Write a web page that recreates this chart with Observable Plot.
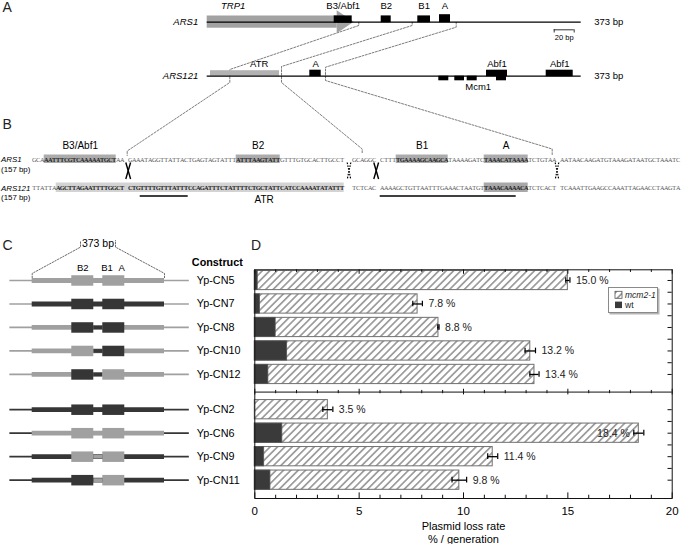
<!DOCTYPE html>
<html>
<head>
<meta charset="utf-8">
<script src="https://cdn.jsdelivr.net/npm/d3@7"></script>
<script src="https://cdn.jsdelivr.net/npm/@observablehq/plot@0.6"></script>
<style>
  html, body { margin:0; padding:0; background:#fff; }
  #fig { position:relative; width:681px; height:544px; overflow:hidden; background:#fff; }
  #fig > svg { position:absolute; left:0; top:0; }
  #legend { position:absolute; left:608px; top:287px; width:48px; height:24px; border:1px solid #8a8a8a;
            box-shadow:1.5px 1.5px 0 #b5b5b5; background:#fff; }
  #legend svg { position:absolute; left:0; top:0; font-family:'Liberation Sans', Arial, sans-serif; font-size:8.5px; }
</style>
</head>
<body>
<svg width="0" height="0" style="position:absolute">
  <defs>
    <pattern id="hatch" patternUnits="userSpaceOnUse" width="5.2" height="5.2" patternTransform="rotate(45)">
      <rect width="5.2" height="5.2" fill="#fff"></rect>
      <line x1="2.6" y1="0" x2="2.6" y2="5.2" stroke="#1a1a1a" stroke-width="0.75"></line>
    </pattern>
  </defs>
</svg>
<div id="fig"></div>
<script>
// ======================= DATA =======================
// Panel A – element maps along the two 373 bp fragments (bp)
const fragmentBp = 373;
const scaleBarBp = 20;
const trp1Name = "TRP1", trp1Start = 0, trp1End = 147;
const ars1Names = ["B3/Abf1", "B2", "B1", "A"];
const ars1Start = [127, 174, 210.6, 232.3];
const ars1End   = [145, 184, 223.3, 243.3];
const ars121Names  = ["ATR", "A", "Mcm1", "Mcm1", "Mcm1", "Abf1", "Abf1", "Abf1"];
const ars121Start  = [3.3, 102.6, 231.6, 247.6, 260, 279.3, 289.3, 339];
const ars121End    = [72.3, 114, 241.6, 257.3, 270, 300.3, 299.3, 366];
const ars121Strand = ["up", "up", "down", "down", "down", "up", "down", "up"];
const ars121LabelText = ["ATR", "A", "Abf1", "Abf1", "Mcm1"];
const ars121LabelBp   = [52, 108.5, 289.8, 352.5, 271];
const ars121LabelSide = ["up", "up", "up", "up", "down"];

// Panel B – aligned 157 bp sequences (one character per column, blanks are gaps)
const seqARS1   = "GCAAATTTCGTCAAAAATGCTAA GAAATAGGTTATTACTGAGTAGTATTTATTTAAGTATTGTTTGTGCACTTGCCT  GCAGGC CTTTTGAAAAGCAAGCATAAAAGATCTAAACATAAAATCTGTAA AATAACAAGATGTAAAGATAATGCTAAATC";
const seqARS121 = "TTATTAAGCTTAGAATTTTGGCT CTGTTTTGTTTATTTCCAGATTTCTATTTTCTGCTATTCATCCAAAATATATTT  TCTCAC AAAAGCTGTTAATTTGAAACTAATGTTAAACAAAACATCTCACT TCAAATTGAAGCCAAATTAGAACCTAAGTA";
const ars1BoxNames = ["B3/Abf1", "B2", "B1", "A"];
const ars1BoxFrom  = [3, 51, 91, 113];
const ars1BoxTo    = [21, 62, 104, 124];
const atrFrom = 6, atrTo = 78, atrLabelCol = 58;
const ars121BoxFrom = 113, ars121BoxTo = 124;
const underlineFrom = [27, 87];
const underlineTo   = [39, 121];
const crossSolid  = [24, 86];
const crossDashed = [79.2, 131.2];

// Panels C & D – constructs
const constructs     = ["Yp-CN5", "Yp-CN7", "Yp-CN8", "Yp-CN10", "Yp-CN12", "Yp-CN2", "Yp-CN6", "Yp-CN9", "Yp-CN11"];
const constructGroup = ["I", "I", "I", "I", "I", "II", "II", "II", "II"];
// origin of each part: L = light (ARS1), D = dark (ARS121)
const outerSrc  = ["L", "L", "L", "L", "L", "D", "D", "D", "D"];
const flankSrc  = ["L", "D", "L", "L", "L", "D", "L", "D", "D"];
const b2Src     = ["L", "D", "D", "L", "D", "D", "L", "L", "D"];
const spacerSrc = ["L", "D", "D", "D", "D", "D", "L", "L", "L"];
const b1aSrc    = ["L", "D", "D", "D", "L", "D", "L", "L", "L"];
const cPartNames = ["B2", "B1", "A"];
const cPartBp    = [142.6, 211, 252];

const mcm2Loss = [15.0, 7.8, 8.8, 13.2, 13.4, 3.5, 18.4, 11.4, 9.8];
const mcm2Err  = [0.1, 0.23, 0.03, 0.25, 0.22, 0.24, 0.24, 0.24, 0.35];
const wtLoss   = [0.14, 0.25, 1.0, 1.55, 0.65, 0, 1.32, 0.45, 0.75];
const lossTicks = [0, 5, 10, 15, 20];

// ======================= LAYOUT =======================
const FONT = "'Liberation Sans', Arial, Helvetica, sans-serif";
const baseStyle = {background: "transparent", overflow: "visible", fontFamily: FONT};
const fig = document.getElementById("fig");
const add = (el) => fig.appendChild(el);
const pxY = {domain: [0, 544], range: [0, 544], axis: null};

// ---------- Panel A ----------
const A1 = 21.7, A2 = 75.7;   // baselines
const head = 17;
const ars1El = ars1Names.map((n, i) => ({name: n, start: ars1Start[i], end: ars1End[i]}));
const ars121El = ars121Names.map((n, i) => ({name: n, start: ars121Start[i], end: ars121End[i], strand: ars121Strand[i]}));
const ars121Lab = ars121LabelText.map((t, i) => ({t, bp: ars121LabelBp[i], side: ars121LabelSide[i]}));
const connectors = [
  [[151.6, A1], [151.6, 25], [22.6, 69], [22.6, 82], [-80, 150.5], [-80, 155]],
  [[205, A1], [205, 25], [74.3, 66], [74.3, 82], [155, 148.5], [155, 153]],
  [[249, A1], [249, 26.7], [118.3, 66.7], [118.3, 80], [345, 148.5], [345, 154]]
].flatMap((pts, id) => pts.map(([x, y]) => ({id, x, y})));

const PA = Plot.plot({
  width: 681, height: 544, margin: 0, style: baseStyle,
  x: {domain: [0, fragmentBp], range: [206.7, 579.7], axis: null},
  y: pxY,
  marks: [
    Plot.line(connectors, {x: "x", y: "y", z: "id", stroke: "#444", strokeWidth: 0.7, strokeDasharray: "2,1.5"}),
    // TRP1 arrow
    Plot.rect([0], {x1: () => trp1Start, x2: () => trp1End - head, y1: () => A1 - 6.2, y2: () => A1 + 6, fill: "#a2a2a2"}),
    Plot.areaY([{x: trp1End - head, a: A1 - 11.5, b: A1 + 11.5}, {x: trp1End, a: A1, b: A1}],
               {x: "x", y1: "a", y2: "b", fill: "#a2a2a2"}),
    Plot.text([trp1Name], {x: () => 26, y: () => A1 - 16.5, text: d => d, fontStyle: "italic", fontSize: 9.5}),
    // ATR band
    Plot.rect(ars121El.filter(d => d.name === "ATR"), {x1: "start", x2: "end", y1: () => A2 - 5.5, y2: () => A2, fill: "#b2b2b2"}),
    // fragment lines
    Plot.ruleY([A1, A2], {y: d => d, x1: () => 0, x2: () => fragmentBp + 1, stroke: "#000", strokeWidth: 1.3}),
    // elements
    Plot.rect(ars1El, {x1: "start", x2: "end", y1: d => A1 - (d.name === "A" ? 7.5 : 6.3), y2: d => A1 + (d.name === "B3/Abf1" ? 1 : 0.5), fill: "#000"}),
    Plot.rect(ars121El.filter(d => d.name !== "ATR"), {x1: "start", x2: "end",
      y1: d => d.strand === "up" ? A2 - 6 : A2, y2: d => d.strand === "up" ? A2 + 0.5 : A2 + 4.6, fill: "#000"}),
    Plot.text(ars1El, {x: d => (d.start + d.end) / 2, y: () => A1 - 16.5, text: "name", fontSize: 9.5}),
    Plot.text(ars121Lab, {x: "bp", y: d => d.side === "up" ? A2 - 12.2 : A2 + 10.5, text: "t", fontSize: 9.5}),
    Plot.text(["ARS1", "ARS121"], {x: () => -9, y: (d, i) => [A1, A2][i], text: d => d, textAnchor: "end", fontStyle: "italic", fontSize: 9.5}),
    Plot.text([A1, A2], {x: () => fragmentBp + 14, y: d => d, text: () => fragmentBp + " bp", textAnchor: "start", fontSize: 9.5}),
    // 20 bp scale bar
    Plot.ruleY([0], {y: () => 29.3, x1: () => 347, x2: () => 347 + scaleBarBp, stroke: "#000", strokeWidth: 0.8}),
    Plot.ruleX([347, 347 + scaleBarBp], {x: d => d, y1: () => 29.3, y2: () => 32.5, stroke: "#000", strokeWidth: 0.8}),
    Plot.text([scaleBarBp + " bp"], {x: () => 347 + scaleBarBp / 2, y: () => 37, text: d => d, fontSize: 7.5})
  ]
});
add(PA);

// ---------- Panel B ----------
const B1 = 159, B2 = 187.5;
const ars1Boxes = ars1BoxNames.map((name, i) => ({name, from: ars1BoxFrom[i], to: ars1BoxTo[i]}));
const emph = (r, i) => r === 0 ? ars1Boxes.some(b => i >= b.from && i < b.to) : (i >= atrFrom && i < atrTo) || (i >= ars121BoxFrom && i < ars121BoxTo);
const chars = [];
[seqARS1, seqARS121].forEach((s, r) => {
  for (let i = 0; i < s.length; i++) if (s[i] !== " ") chars.push({i, ch: s[i], row: r, em: emph(r, i)});
});
const underlines = underlineFrom.map((f, i) => ({from: f, to: underlineTo[i]}));
const crosses = [...crossSolid.map(c => ({c, solid: true})), ...crossDashed.map(c => ({c, solid: false}))];

const PB = Plot.plot({
  width: 681, height: 544, margin: 0, style: baseStyle,
  x: {domain: [0, 162], range: [31.7, 679.7], axis: null},
  y: pxY,
  marks: [
    Plot.rect(ars1Boxes, {x1: "from", x2: "to", y1: () => B1 - 4.5, y2: () => B1 + 4, fill: "#ababab"}),
    Plot.rect([0], {x1: () => atrFrom, x2: () => atrTo, y1: () => B2 - 5, y2: () => B2 + 4.5, fill: "#d3d3d3"}),
    Plot.rect([0], {x1: () => ars121BoxFrom, x2: () => ars121BoxTo, y1: () => B2 - 5, y2: () => B2 + 4.5, fill: "#a8a8a8"}),
    Plot.text(chars.filter(d => !d.em), {x: d => d.i + 0.5, y: d => d.row ? B2 : B1, text: "ch", fontSize: 6.3, fontFamily: "'Liberation Serif', serif", fill: "#555"}),
    Plot.text(chars.filter(d => d.em), {x: d => d.i + 0.5, y: d => d.row ? B2 : B1, text: "ch", fontSize: 6.3, fontFamily: "'Liberation Serif', serif", fill: "#222", fontWeight: "bold"}),
    Plot.ruleY(underlines, {y: () => B2 + 8, x1: "from", x2: "to", stroke: "#000", strokeWidth: 1.6}),
    Plot.link(crosses.filter(d => d.solid), {x1: d => d.c - 0.6, x2: d => d.c + 0.6, y1: () => 162, y2: () => 178.5, stroke: "#000", strokeWidth: 1.4}),
    Plot.link(crosses.filter(d => d.solid), {x1: d => d.c + 0.6, x2: d => d.c - 0.6, y1: () => 162, y2: () => 178.5, stroke: "#000", strokeWidth: 1.4}),
    Plot.link(crosses.filter(d => !d.solid), {x1: d => d.c - 0.45, x2: d => d.c + 0.45, y1: () => 162, y2: () => 179, stroke: "#000", strokeWidth: 1.2, strokeDasharray: "1.6,1.3"}),
    Plot.link(crosses.filter(d => !d.solid), {x1: d => d.c + 0.45, x2: d => d.c - 0.45, y1: () => 162, y2: () => 179, stroke: "#000", strokeWidth: 1.2, strokeDasharray: "1.6,1.3"}),
    Plot.text(ars1Boxes, {x: d => (d.from + d.to) / 2, y: () => 145, text: "name", fontSize: 10}),
    Plot.text(["ATR"], {x: () => atrLabelCol, y: () => 199.5, text: d => d, fontSize: 10}),
    Plot.text(["ARS1", "ARS121"], {frameAnchor: "left", dx: 0.5, y: (d, i) => [B1, B2][i], text: d => d, textAnchor: "start", fontStyle: "italic", fontSize: 7.9}),
    Plot.text(["(157 bp)", "(157 bp)"], {frameAnchor: "left", dx: 0.5, y: (d, i) => [B1, B2][i] + 9.5, text: d => d, textAnchor: "start", fontSize: 7.9})
  ]
});
add(PB);

// ---------- Panels C & D share the construct rows ----------
const rows = constructs.map((c, i) => ({
  c, k: i + (constructGroup[i] === "II" ? 0.5 : 0),
  outer: outerSrc[i], flank: flankSrc[i], b2: b2Src[i], spacer: spacerSrc[i], b1a: b1aSrc[i],
  mcm: mcm2Loss[i], err: mcm2Err[i], wt: wtLoss[i]
}));
const K_TOP = -0.455, K_BOTTOM = 9.28;
const yRows = {domain: [K_TOP, K_BOTTOM], range: [269.3, 498], axis: null};
const groupI = rows.filter(d => constructGroup[constructs.indexOf(d.c)] === "I");
const groupII = rows.filter(d => constructGroup[constructs.indexOf(d.c)] === "II");
const splitK = (groupI[groupI.length - 1].k + groupII[0].k) / 2;

// Panel C
const shade = {L: "#a0a0a0", D: "#363636"};
const C_OUT = [-63, 443], C_B2 = [111.6, 173.6], C_B1A = [199, 261];
const cDots = [
  [[0, -0.12], [0, -0.3], [136.2, -1.42], [136.2, -1.7]],
  [[fragmentBp, -0.12], [fragmentBp, -0.3], [234.9, -1.42], [234.9, -1.7]]
].flatMap((p, id) => p.map(([x, y]) => ({id, x, y})));
const PC = Plot.plot({
  width: 681, height: 544, marginTop: 269.3, marginBottom: 46, marginLeft: 0, marginRight: 0, style: baseStyle,
  x: {domain: [0, fragmentBp], range: [31.7, 164], axis: null},
  y: yRows,
  color: {type: "identity"},
  marks: [
    Plot.ruleY(rows, {y: "k", x1: () => C_OUT[0], x2: () => C_OUT[1], stroke: d => shade[d.outer], strokeWidth: 1.7}),
    Plot.ruleY(rows, {y: "k", x1: () => 0, x2: () => fragmentBp, stroke: d => shade[d.flank], strokeWidth: 4.8}),
    Plot.ruleY(rows, {y: "k", x1: () => C_B2[1], x2: () => C_B1A[0], stroke: d => shade[d.spacer], strokeWidth: 3.8}),
    Plot.ruleY(rows, {y: "k", x1: () => C_B2[0], x2: () => C_B2[1], stroke: d => shade[d.b2], strokeWidth: 10.5}),
    Plot.ruleY(rows, {y: "k", x1: () => C_B1A[0], x2: () => C_B1A[1], stroke: d => shade[d.b1a], strokeWidth: 10.5}),
    Plot.line(cDots, {x: "x", y: "y", z: "id", stroke: "#444", strokeWidth: 0.8, strokeDasharray: "1.5,1.5"}),
    Plot.text([fragmentBp + " bp"], {x: () => 185.5, y: () => -1.56, text: d => d, fontSize: 10.5}),
    Plot.text(cPartNames, {x: (d, i) => cPartBp[i], y: () => -0.54, text: d => d, fontSize: 9.5}),
    Plot.text(["Construct"], {x: () => C_OUT[1], dx: 2.5, y: () => -0.78, text: d => d, textAnchor: "start", fontWeight: "bold", fontSize: 10.8}),
    Plot.text(rows, {x: () => C_OUT[1], dx: 7.5, y: "k", text: "c", textAnchor: "start", fontSize: 10.8})
  ]
});
add(PC);

// Panel D
const BAR = 0.41;
const unitTicks = d3.range(0, 21);
const halfTicks = [groupI, groupII].flatMap(g => d3.range(g[0].k, g[g.length - 1].k + 0.01, 0.5));
const tickLen = d => d % 5 === 0 ? 0.24 : 0.14;
const PD = Plot.plot({
  width: 681, height: 544, marginLeft: 254.3, marginRight: 9.3, marginTop: 269.3, marginBottom: 46, style: baseStyle,
  x: {domain: [0, 20], range: [254.3, 671.7], axis: null},
  y: yRows,
  marks: [
    Plot.rect(rows, {x1: () => 0, x2: "mcm", y1: d => d.k - BAR, y2: d => d.k + BAR, fill: "url(#hatch)", stroke: "#707070", strokeWidth: 1}),
    Plot.rect(rows.filter(d => d.wt > 0), {x1: () => 0, x2: "wt", y1: d => d.k - BAR, y2: d => d.k + BAR, fill: "#3a3a3a", stroke: "#555", strokeWidth: 0.8}),
    Plot.frame({stroke: "#111", strokeWidth: 1}),
    Plot.ruleY([splitK], {y: d => d, stroke: "#111", strokeWidth: 1}),
    Plot.ruleX(unitTicks, {x: d => d, y1: () => K_TOP, y2: d => K_TOP + tickLen(d) * 0.8, stroke: "#111"}),
    Plot.ruleX(unitTicks, {x: d => d, y1: () => K_BOTTOM, y2: d => K_BOTTOM - tickLen(d), stroke: "#111"}),
    Plot.ruleX(unitTicks, {x: d => d, y1: d => splitK - tickLen(d) / 2, y2: d => splitK + tickLen(d) / 2, stroke: "#111"}),
    Plot.ruleY(halfTicks, {y: d => d, x1: () => 20, x2: () => 19.8, stroke: "#111"}),
    // error bars
    Plot.ruleY(rows, {y: "k", x1: d => d.mcm - d.err, x2: d => d.mcm + d.err, stroke: "#000", strokeWidth: 1.3}),
    Plot.ruleX(rows, {x: d => d.mcm - d.err, y1: d => d.k - 0.12, y2: d => d.k + 0.12, stroke: "#000", strokeWidth: 1.2}),
    Plot.ruleX(rows, {x: d => d.mcm + d.err, y1: d => d.k - 0.12, y2: d => d.k + 0.12, stroke: "#000", strokeWidth: 1.2}),
    // value labels
    Plot.text(rows.filter(d => d.mcm < 17), {x: d => d.mcm + d.err, dx: 6, y: "k", text: d => d.mcm.toFixed(1) + " %", textAnchor: "start", fontSize: 10.5, fill: "#222"}),
    Plot.text(rows.filter(d => d.mcm >= 17), {x: d => d.mcm - d.err, dx: -4, y: "k", text: d => d.mcm.toFixed(1) + " %", textAnchor: "end", fontSize: 10.5, fill: "#222"}),
    // axis labels and title
    Plot.text(lossTicks, {x: d => d, y: () => K_BOTTOM, dy: 12.7, text: d => String(d), fontSize: 11.5}),
    Plot.text(["Plasmid loss rate\n% / generation"], {x: () => 10, y: () => K_BOTTOM, dy: 33.5, text: d => d, fontSize: 11, lineHeight: 1.18})
  ]
});
add(PD);

// legend (inside panel D)
const legend = document.createElement("div");
legend.id = "legend";
legend.innerHTML = `<svg width="48" height="24">
  <rect x="6" y="3.3" width="7" height="7" fill="url(#hatch)" stroke="#555" stroke-width="0.8"></rect>
  <text x="16" y="9.8" font-style="italic" fill="#222">mcm2-1</text>
  <rect x="6" y="13.6" width="7" height="6.5" fill="#3a3a3a"></rect>
  <text x="16" y="20" fill="#222">wt</text></svg>`;
fig.appendChild(legend);

// panel letters
const letters = ["A", "B", "C", "D"];
const letterX = [2, 2, 2, 250.5];
const letterY = [7.5, 124, 245.5, 245];
const PL = Plot.plot({
  width: 681, height: 544, margin: 0, style: baseStyle,
  x: {domain: [0, 681], range: [0, 681], axis: null},
  y: pxY,
  marks: [Plot.text(letters, {x: (d, i) => letterX[i], y: (d, i) => letterY[i], text: d => d, textAnchor: "start", fontSize: 14, fill: "#222"})]
});
add(PL);
</script>
</body>
</html>
